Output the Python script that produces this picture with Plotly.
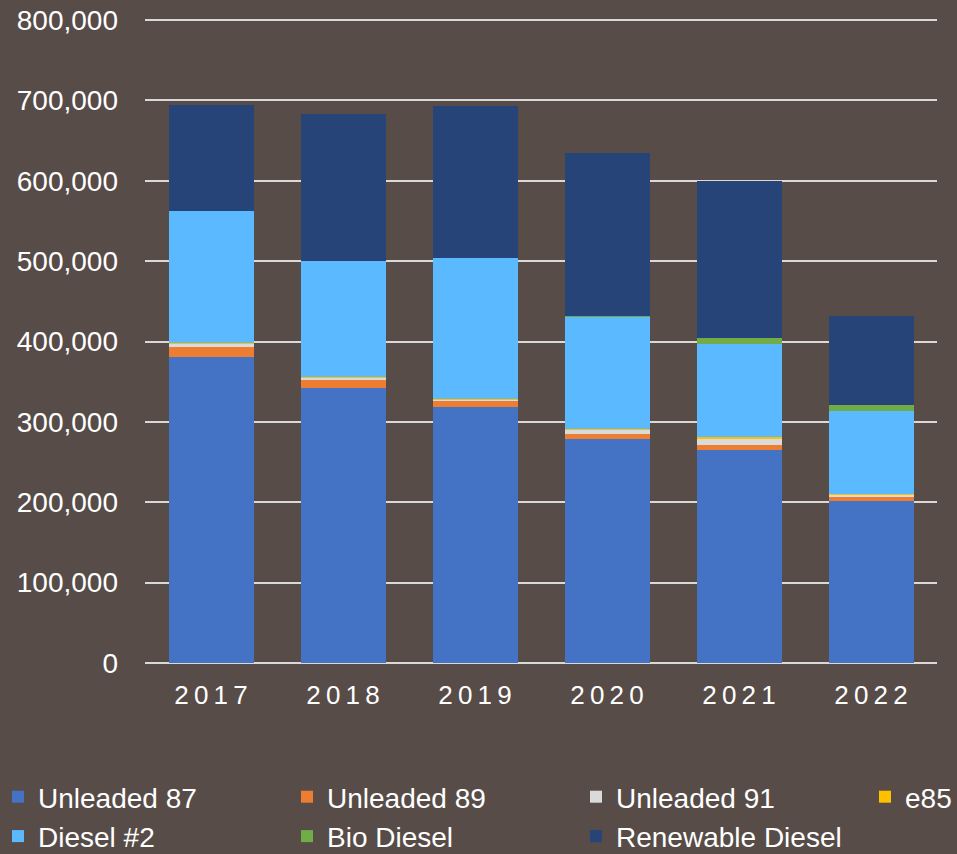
import plotly.graph_objects as go

years = ["2017", "2018", "2019", "2020", "2021", "2022"]
unleaded_87 = [380700, 342500, 318500, 278700, 265000, 201500]
unleaded_89 = [12800, 9600, 7800, 6200, 5800, 5400]
unleaded_91 = [4500, 3300, 1700, 5400, 8200, 3000]
e85 = [500, 300, 300, 800, 1700, 400]
diesel_2 = [164000, 144800, 175200, 139800, 116600, 103200]
bio_diesel = [0, 0, 0, 1200, 7100, 7500]
renewable_diesel = [131500, 182500, 190000, 202100, 195300, 111100]

series = [
    ("Unleaded 87", unleaded_87, "#4472C4", "legend"),
    ("Unleaded 89", unleaded_89, "#ED7D31", "legend2"),
    ("Unleaded 91", unleaded_91, "#DADADA", "legend3"),
    ("e85", e85, "#FFC000", "legend4"),
    ("Diesel #2", diesel_2, "#5BBAFF", "legend"),
    ("Bio Diesel", bio_diesel, "#70AD47", "legend2"),
    ("Renewable Diesel", renewable_diesel, "#264478", "legend3"),
]

BG = "#574C47"
W, H = 957, 854
ML, MR, MT, MB = 145, 20, 16, 191
PW = W - ML - MR

fig = go.Figure()
for name, vals, color, lg in series:
    fig.add_trace(go.Bar(
        x=years, y=vals, name=name, legend=lg,
        marker=dict(color=color, line=dict(width=0)),
    ))

tick_text = ["\u2009".join(list(y)) for y in years]

legend_common = dict(
    orientation="v", xref="paper", yref="container",
    xanchor="left", yanchor="top", traceorder="normal",
    font=dict(family="Liberation Sans, Arial, sans-serif", size=28, color="white"),
    bgcolor="rgba(0,0,0,0)", borderwidth=0, tracegroupgap=0,
    itemclick=False, itemdoubleclick=False,
)
ly = 1 - 772 / H


def lx(px):
    return (px - ML) / PW


fig.update_layout(
    width=W, height=H,
    paper_bgcolor=BG, plot_bgcolor=BG,
    barmode="stack", bargap=0.356,
    margin=dict(l=ML, r=MR, t=MT, b=MB, autoexpand=False),
    font=dict(family="Liberation Sans, Arial, sans-serif", color="white"),
    legend=dict(x=lx(-2), y=ly, **legend_common),
    legend2=dict(x=lx(287), y=ly, **legend_common),
    legend3=dict(x=lx(576), y=ly, **legend_common),
    legend4=dict(x=lx(865), y=ly, **legend_common),
    xaxis=dict(
        tickmode="array", tickvals=years, ticktext=tick_text,
        tickfont=dict(size=26, color="white"), tickangle=0, automargin=False,
        showgrid=False, showline=False, ticks="", ticklabelstandoff=14,
    ),
    yaxis=dict(
        range=[0, 805000], tickmode="linear", tick0=0, dtick=100000,
        tickformat=",d", automargin=False,
        tickfont=dict(size=28, color="white"),
        showgrid=True, gridcolor="#D9D9D9", gridwidth=1.5,
        zeroline=True, zerolinecolor="#D9D9D9", zerolinewidth=1.5,
        showline=False, ticks="", ticklabelstandoff=26,
    ),
)

fig.write_html(
    "out.html",
    config={"displayModeBar": False},
    post_script="document.body.style.margin='0';document.body.style.padding='0';document.body.style.background='" + BG + "';",
)
